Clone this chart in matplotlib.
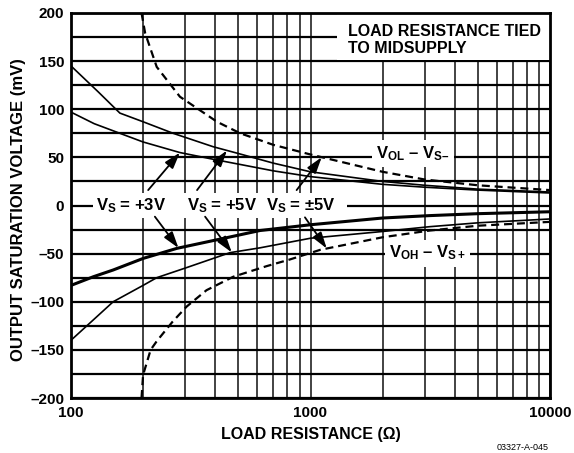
import numpy as np
import matplotlib
matplotlib.use('Agg')
import matplotlib.pyplot as plt
from matplotlib.patches import Rectangle

plt.rcParams['font.family'] = ['Liberation Sans', 'DejaVu Sans']
plt.rcParams['font.weight'] = 'bold'
plt.rcParams['mathtext.fontset'] = 'custom'
plt.rcParams['mathtext.rm'] = 'Liberation Sans:bold'
plt.rcParams['mathtext.it'] = 'Liberation Sans:bold'
plt.rcParams['mathtext.bf'] = 'Liberation Sans:bold'
plt.rcParams['mathtext.sf'] = 'Liberation Sans:bold'

# Output saturation voltage (mV) vs load resistance (ohm)
# VOL - VS-
r_vol_3v = [100, 125, 160, 200, 285, 393, 500, 700, 1000, 2000, 3000, 5000, 10000]
vol_3v = [97, 85, 75, 66, 55, 48, 43, 36, 30, 22, 19, 16, 13]

r_vol_5v = [100, 130, 160, 200, 267, 393, 500, 700, 1000, 2000, 3000, 5000, 10000]
vol_5v = [145, 118, 96, 87, 75, 61, 54, 44, 35, 25, 21, 17, 14]

r_vol_pm5v = [197, 204, 228, 285, 407, 509, 700, 1000, 2000, 3000, 5000, 10000]
vol_pm5v = [200, 179, 144, 113, 87, 75, 63, 53, 35, 27, 21, 16]

# VOH - VS+
r_voh_3v = [100, 124, 150, 200, 277, 400, 615, 1000, 2000, 3150, 5000, 10000]
voh_3v = [-83, -74, -67, -55, -44.5, -36, -26, -20, -13, -10.5, -8.5, -6.5]

r_voh_5v = [100, 125, 150, 200, 228, 300, 461, 615, 1000, 2000, 3150, 5000, 10000]
voh_5v = [-140, -118, -100, -83, -75, -65, -49, -44, -34, -27, -22, -18, -14]

r_voh_pm5v = [197, 200, 215, 228, 265, 304, 368, 476, 656, 822, 1100, 2000, 3150, 5000, 10000]
voh_pm5v = [-200, -176, -150, -141, -121, -105, -88, -74, -63, -56, -46, -33, -26, -21, -17]

y_ticks = [-200, -150, -100, -50, 0, 50, 100, 150, 200]
y_ticklabels = ['\u2013200', '\u2013150', '\u2013100', '\u201350', '0', '50', '100', '150', '200']
x_ticks = [100, 1000, 10000]
x_ticklabels = ['100', '1000', '10000']


def on_curve(r, rs, vs):
    return np.interp(np.log10(r), np.log10(rs), vs)


fig = plt.figure(figsize=(5.74, 4.53), dpi=100)
ax = fig.add_axes([71 / 574, 1 - 398 / 453, 479 / 574, 385 / 453])

ax.set_xscale('log')
ax.set_xlim(100, 10000)
ax.set_ylim(-200, 200)
ax.set_xticks(x_ticks)
ax.set_xticklabels(x_ticklabels)
ax.set_xticks([m * d for d in (100, 1000) for m in range(2, 10)], minor=True)
ax.xaxis.set_minor_formatter(matplotlib.ticker.NullFormatter())
ax.set_yticks(y_ticks)
ax.set_yticklabels(y_ticklabels)
ax.set_yticks(np.arange(-175, 200, 50), minor=True)
ax.tick_params(which='both', length=0, labelsize=11)
ax.tick_params(axis='x', pad=6)
ax.tick_params(axis='y', pad=5)

ax.set_axisbelow(True)
ax.xaxis.grid(True, which='both', color='#222222', lw=1.2)
ax.yaxis.grid(True, which='both', color='black', lw=1.6)
for s in ax.spines.values():
    s.set_linewidth(2)

# white backing behind the annotation labels
ax.add_patch(Rectangle((0.555, 0.878), 0.445, 0.122, transform=ax.transAxes,
                       facecolor='white', edgecolor='none', zorder=1))
ax.add_patch(Rectangle((123.5, -12.5), 1420 - 123.5, 26, facecolor='white',
                       edgecolor='none', zorder=1))

ax.plot(r_vol_3v, vol_3v, color='black', lw=1.2, zorder=3)
ax.plot(r_vol_5v, vol_5v, color='black', lw=1.2, zorder=3)
ax.plot(r_vol_pm5v, vol_pm5v, color='black', lw=1.6, dashes=(3.6, 2.2), zorder=3)
ax.plot(r_voh_3v, voh_3v, color='black', lw=2.2, zorder=3)
ax.plot(r_voh_5v, voh_5v, color='black', lw=1.2, zorder=3)
ax.plot(r_voh_pm5v, voh_pm5v, color='black', lw=1.6, dashes=(3.6, 2.2), zorder=3)

ax.text(0.578, 0.972, 'LOAD RESISTANCE TIED\nTO MIDSUPPLY', transform=ax.transAxes,
        ha='left', va='top', fontsize=11.5, linespacing=1.15, zorder=4)

lab = dict(ha='center', va='center', fontsize=12, zorder=4)
ax.text(178, 0, r'$V_S$ = +3V', **lab)
ax.text(426, 0, r'$V_S$ = +5V', **lab)
ax.text(910, 0, r'$V_S$ = $\pm$5V', **lab)
box = dict(facecolor='white', edgecolor='none', pad=3)
ax.text(2680, 54, '$V_{OL}$ \u2013 $V_{S\u2013}$', bbox=box, **lab)
ax.text(3080, -49.5, '$V_{OH}$ \u2013 $V_{S+}$', bbox=box, **lab)

arrow = dict(arrowstyle='-|>,head_length=0.7,head_width=0.22', color='black',
             lw=1.3, shrinkA=0, shrinkB=0, mutation_scale=14)
pointers = [
    (285, r_vol_3v, vol_3v, 210, 16),
    (448, r_vol_5v, vol_5v, 336, 16),
    (1114, r_vol_pm5v, vol_pm5v, 875, 16),
    (281, r_voh_3v, voh_3v, 224, -11.6),
    (469, r_voh_5v, voh_5v, 363, -11.6),
    (1169, r_voh_pm5v, voh_pm5v, 948, -12.3),
]
for r_tip, rs, vs, r_tail, v_tail in pointers:
    ax.annotate('', xy=(r_tip, on_curve(r_tip, rs, vs)), xytext=(r_tail, v_tail),
                arrowprops=arrow, zorder=5)

fig.text(18.5 / 574, 1 - 210 / 453, 'OUTPUT SATURATION VOLTAGE (mV)', rotation=90,
         ha='center', va='center', fontsize=12)
fig.text(310.5 / 574, 1 - 434 / 453, 'LOAD RESISTANCE (\u03a9)', ha='center',
         va='center', fontsize=11.5)
fig.text(549 / 574, 1 - 447 / 453, '03327-A-045', ha='right', va='center',
         fontsize=6.5, fontweight='normal')

fig.savefig('out.png', dpi=100)
